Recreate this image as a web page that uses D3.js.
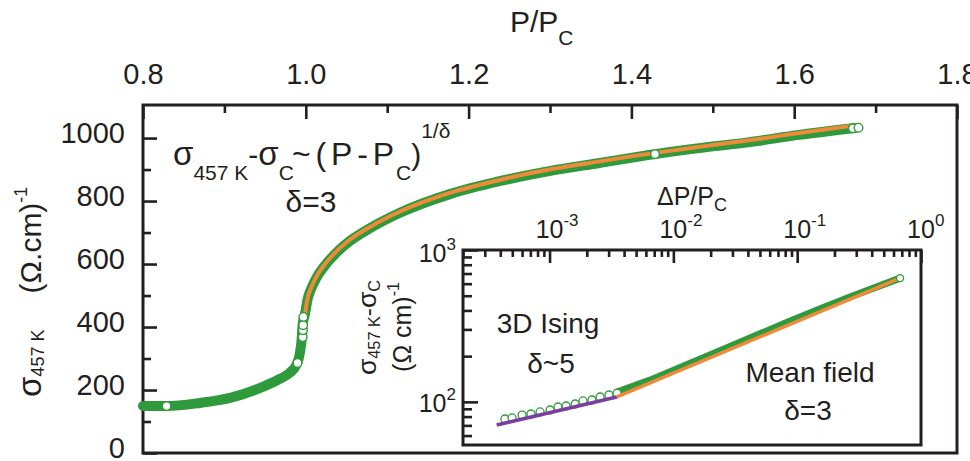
<!DOCTYPE html>
<html>
<head>
<meta charset="utf-8">
<script src="https://cdn.jsdelivr.net/npm/d3@7"></script>
<style>
  body { margin: 0; background: #fff; }
  svg { display: block; }
  text { font-family: Arial, "Liberation Sans", Helvetica, sans-serif; fill: #231f20; }
</style>
</head>
<body>
<svg id="chart" width="970" height="461"></svg>
<script>
// ---- main panel: sigma(457 K) against reduced pressure P/Pc ----
const mainP     = [0.800, 0.829, 0.870, 0.907, 0.947, 0.968, 0.980, 0.989, 0.993, 0.995, 0.996, 0.999, 1.002, 1.007, 1.013, 1.023, 1.036, 1.054, 1.079, 1.115, 1.177, 1.238, 1.299, 1.361, 1.429, 1.483, 1.545, 1.606, 1.675];
const mainSigma = [149, 149, 159, 175, 210, 235, 254, 283, 321, 365, 406, 441, 486, 524, 556, 594, 632, 673, 714, 762, 822, 863, 895, 921, 949, 968, 987, 1010, 1032];

// power-law fit with delta = 3 above Pc
const fitP     = [0.999, 1.002, 1.007, 1.013, 1.023, 1.036, 1.054, 1.079, 1.115, 1.177, 1.238, 1.299, 1.361, 1.429, 1.483, 1.545, 1.606, 1.680];
const fitSigma = [440, 489, 527, 560, 598, 636, 677, 718, 766, 826, 867, 900, 926, 953, 972, 993, 1016, 1042];

// individually visible open markers
const openP     = [0.829, 0.9898, 0.9962, 0.9965, 0.9967, 0.9970, 1.429, 1.672, 1.679];
const openSigma = [149, 286, 368, 390, 406, 432, 949, 1031, 1033];

const xMajor = [0.8, 1.0, 1.2, 1.4, 1.6, 1.8];
const xTickLabels = ["0.8", "1.0", "1.2", "1.4", "1.6", "1.8"];
const xMinor = [0.9, 1.1, 1.3, 1.5, 1.7];
const yMajor = [0, 200, 400, 600, 800, 1000];
const yTickLabels = ["0", "200", "400", "600", "800", "1000"];
const yMinor = [100, 300, 500, 700, 900];

// ---- inset: sigma - sigma_c against dP/Pc, log-log ----
const insetDP  = [3.51e-3, 6.47e-3, 1.20e-2, 2.25e-2, 4.16e-2, 7.69e-2, 0.145, 0.267, 0.678];
const insetVal = [116, 139, 172, 213, 263, 326, 403, 490, 653];
const insetOpenDP  = [4.36e-4, 4.98e-4, 6.0e-4, 7.08e-4, 8.38e-4, 1.01e-3, 1.17e-3, 1.36e-3, 1.61e-3, 1.86e-3, 2.20e-3, 2.56e-3, 3.02e-3, 3.51e-3];
const insetOpenVal = [77.1, 78.4, 81.9, 83.2, 85.8, 88.4, 92.5, 93.9, 96.8, 101.4, 102.9, 107.7, 111, 114];
const isingDP  = [3.74e-4, 3.49e-3];
const isingVal = [70.4, 107.7];
const meanDP   = [3.49e-3, 0.678];
const meanVal  = [107.7, 653];

const insetXMajor = [1e-3, 1e-2, 1e-1, 1];
const insetXExp = ["-3", "-2", "-1", "0"];
const insetYMajor = [100, 1000];
const insetYExp = ["2", "3"];

const GREEN = "#2f9a3b", ORANGE = "#ee8a3a", PURPLE = "#7a3f9e", INK = "#231f20";

const svg = d3.select("#chart");

// scales
const x = d3.scaleLinear().domain([0.8, 1.8]).range([143, 957]);
const y = d3.scaleLinear().domain([0, 1105]).range([453, 105]);
const ix = d3.scaleLog().domain([2e-4, 1]).range([463, 921]);
const iy = d3.scaleLog().domain([52, 1000]).range([445, 250]);

function styleAxis(g, fontSize) {
  g.select(".domain").remove();
  g.selectAll(".tick line").attr("stroke", INK).attr("stroke-width", 2.6);
  g.selectAll(".tick text").attr("font-size", fontSize).attr("fill", INK)
    .style("font-family", 'Arial, "Liberation Sans", sans-serif');
}

// ---- main axes ----
const gTop = svg.append("g").attr("transform", `translate(0,${y.range()[1]})`);
gTop.call(d3.axisTop(x).tickValues(xMajor).tickSize(-14).tickPadding(21)
  .tickFormat((d, i) => xTickLabels[i]));
styleAxis(gTop, 29);
const gTopMinor = svg.append("g").attr("transform", `translate(0,${y.range()[1]})`);
gTopMinor.call(d3.axisTop(x).tickValues(xMinor).tickSize(-8).tickFormat(""));
styleAxis(gTopMinor, 29);

const gLeft = svg.append("g").attr("transform", `translate(${x.range()[0]},0)`);
gLeft.call(d3.axisLeft(y).tickValues(yMajor).tickSize(-14).tickPadding(18)
  .tickFormat((d, i) => yTickLabels[i]));
styleAxis(gLeft, 29);
gLeft.selectAll(".tick text").attr("dy", "0.15em");
const gLeftMinor = svg.append("g").attr("transform", `translate(${x.range()[0]},0)`);
gLeftMinor.call(d3.axisLeft(y).tickValues(yMinor).tickSize(-8).tickFormat(""));
styleAxis(gLeftMinor, 29);

svg.append("rect")
  .attr("x", x.range()[0]).attr("y", y.range()[1])
  .attr("width", x.range()[1] - x.range()[0]).attr("height", y.range()[0] - y.range()[1])
  .attr("fill", "none").attr("stroke", INK).attr("stroke-width", 3);

// axis titles
const tTop = svg.append("text").attr("x", 510).attr("y", 32).attr("font-size", 30);
tTop.append("tspan").text("P/P");
tTop.append("tspan").attr("font-size", 21).attr("dy", 13).text("C");

const yt1 = svg.append("text").attr("transform", "translate(41,397) rotate(-90)")
  .attr("font-size", 30).attr("text-anchor", "start");
yt1.append("tspan").attr("font-size", 33).text("σ");
yt1.append("tspan").attr("font-size", 18).attr("dy", 3).text("457 K");
const yt2 = svg.append("text").attr("transform", "translate(41,240) rotate(-90)")
  .attr("font-size", 30).attr("text-anchor", "middle");
yt2.append("tspan").text("(Ω.cm)");
yt2.append("tspan").attr("font-size", 18).attr("dy", -14).text("-1");

// ---- main data ----
const mainPts = mainP.map((p, i) => [p, mainSigma[i]]);
const fitPts = fitP.map((p, i) => [p, fitSigma[i]]);
const lineMain = d3.line().x(d => x(d[0])).y(d => y(d[1])).curve(d3.curveMonotoneX);

svg.append("path").attr("d", lineMain(mainPts))
  .attr("fill", "none").attr("stroke", GREEN).attr("stroke-width", 10)
  .attr("stroke-linecap", "round").attr("stroke-linejoin", "round");
svg.append("path").attr("d", lineMain(fitPts))
  .attr("fill", "none").attr("stroke", ORANGE).attr("stroke-width", 4)
  .attr("stroke-linecap", "round");
svg.append("g").selectAll("circle").data(openP.map((p, i) => [p, openSigma[i]])).join("circle")
  .attr("cx", d => x(d[0])).attr("cy", d => y(d[1])).attr("r", 4.3)
  .attr("fill", "#fff").attr("stroke", GREEN).attr("stroke-width", 1.4);

// formula annotation
const f = svg.append("text").attr("x", 173).attr("y", 165).attr("font-size", 30);
f.append("tspan").attr("font-size", 33).text("σ");
f.append("tspan").attr("font-size", 21).attr("dy", 15).text("457 K");
f.append("tspan").attr("dy", -15).text("-");
f.append("tspan").attr("font-size", 33).text("σ");
f.append("tspan").attr("font-size", 21).attr("dy", 15).text("C");
const f2 = svg.append("text").attr("x", 292).attr("y", 165).attr("font-size", 32)
  .attr("textLength", 102).attr("lengthAdjust", "spacing");
f2.text("~(P-P");
const f3 = svg.append("text").attr("x", 396).attr("y", 165).attr("font-size", 30);
f3.append("tspan").attr("font-size", 21).attr("dy", 15).text("C");
f3.append("tspan").attr("dy", -15).text(")");
f3.append("tspan").attr("font-size", 21).attr("dy", -27).text("1/δ");
svg.append("text").attr("x", 311).attr("y", 212).attr("font-size", 30)
  .attr("text-anchor", "middle").text("δ=3");

// ---- inset ----
svg.append("rect")
  .attr("x", ix.range()[0]).attr("y", iy.range()[1])
  .attr("width", ix.range()[1] - ix.range()[0]).attr("height", iy.range()[0] - iy.range()[1])
  .attr("fill", "#fff").attr("stroke", "none");

const insetXMinor = [];
for (let e = -4; e < 0; e++) for (let m = 2; m <= 9; m++) {
  const v = m * Math.pow(10, e);
  if (v >= 2e-4 && v < 1) insetXMinor.push(v);
}
const insetYMinor = [60, 70, 80, 90, 200, 300, 400, 500, 600, 700, 800, 900];

const gIT = svg.append("g").attr("transform", `translate(0,${iy.range()[1]})`);
gIT.call(d3.axisTop(ix).tickValues(insetXMajor).tickSize(-13).tickFormat(""));
styleAxis(gIT, 25);
const gITm = svg.append("g").attr("transform", `translate(0,${iy.range()[1]})`);
gITm.call(d3.axisTop(ix).tickValues(insetXMinor).tickSize(-7).tickFormat(""));
styleAxis(gITm, 25);
const gIL = svg.append("g").attr("transform", `translate(${ix.range()[0]},0)`);
gIL.call(d3.axisLeft(iy).tickValues(insetYMajor).tickSize(-15).tickFormat(""));
styleAxis(gIL, 25);
const gILm = svg.append("g").attr("transform", `translate(${ix.range()[0]},0)`);
gILm.call(d3.axisLeft(iy).tickValues(insetYMinor).tickSize(-9).tickFormat(""));
styleAxis(gILm, 25);

// inset tick labels (powers of ten)
insetXMajor.forEach((v, i) => {
  const t = svg.append("text").attr("x", ix(v) - 13.9).attr("y", 238).attr("font-size", 25);
  t.append("tspan").text("10");
  t.append("tspan").attr("font-size", 17).attr("dy", -12).text(insetXExp[i]);
});
insetYMajor.forEach((v, i) => {
  const t = svg.append("text").attr("x", 456).attr("y", Math.max(iy(v) + 10, 262)).attr("font-size", 25)
    .attr("text-anchor", "end");
  t.append("tspan").text("10");
  t.append("tspan").attr("font-size", 17).attr("dy", -12).text(insetYExp[i]);
});

// inset titles
const itx = svg.append("text").attr("x", 657).attr("y", 205).attr("font-size", 25);
itx.append("tspan").text("ΔP/P");
itx.append("tspan").attr("font-size", 18).attr("dy", 6).text("C");

const ity1 = svg.append("text").attr("transform", "translate(376,375) rotate(-90)")
  .attr("font-size", 24).attr("textLength", 95).attr("lengthAdjust", "spacingAndGlyphs");
ity1.append("tspan").attr("font-size", 26).text("σ");
ity1.append("tspan").attr("font-size", 16).attr("dy", 4).text("457 K");
ity1.append("tspan").attr("dy", -4).text("-");
ity1.append("tspan").attr("font-size", 26).text("σ");
ity1.append("tspan").attr("font-size", 16).attr("dy", 4).text("C");
const ity2 = svg.append("text").attr("transform", "translate(411,327) rotate(-90)")
  .attr("font-size", 25).attr("text-anchor", "middle");
ity2.append("tspan").text("(Ω cm)");
ity2.append("tspan").attr("font-size", 16).attr("dy", -12).text("-1");

// inset data
const lineInset = d3.line().x(d => ix(d[0])).y(d => iy(d[1]));
svg.append("path").attr("d", lineInset(insetDP.map((v, i) => [v, insetVal[i]])))
  .attr("fill", "none").attr("stroke", GREEN).attr("stroke-width", 7)
  .attr("stroke-linecap", "round").attr("stroke-linejoin", "round");
svg.append("g").selectAll("circle").data(insetOpenDP.map((v, i) => [v, insetOpenVal[i]])).join("circle")
  .attr("cx", d => ix(d[0])).attr("cy", d => iy(d[1])).attr("r", 4)
  .attr("fill", "#fff").attr("stroke", GREEN).attr("stroke-width", 1.3);
svg.append("path").attr("d", lineInset(isingDP.map((v, i) => [v, isingVal[i]])))
  .attr("fill", "none").attr("stroke", PURPLE).attr("stroke-width", 3.5);
svg.append("path").attr("d", lineInset(meanDP.map((v, i) => [v, meanVal[i]])))
  .attr("fill", "none").attr("stroke", ORANGE).attr("stroke-width", 3.5);
svg.append("circle").attr("cx", ix(insetDP[insetDP.length - 1])).attr("cy", iy(insetVal[insetVal.length - 1]))
  .attr("r", 3.5).attr("fill", "#fff").attr("stroke", GREEN).attr("stroke-width", 1.3);

svg.append("rect")
  .attr("x", ix.range()[0]).attr("y", iy.range()[1])
  .attr("width", ix.range()[1] - ix.range()[0]).attr("height", iy.range()[0] - iy.range()[1])
  .attr("fill", "none").attr("stroke", INK).attr("stroke-width", 3);

// inset annotations
svg.append("text").attr("x", 548).attr("y", 333).attr("font-size", 28).attr("text-anchor", "middle").text("3D Ising");
svg.append("text").attr("x", 551).attr("y", 373).attr("font-size", 28).attr("text-anchor", "middle").text("δ~5");
svg.append("text").attr("x", 810).attr("y", 382).attr("font-size", 28).attr("text-anchor", "middle").text("Mean field");
svg.append("text").attr("x", 808).attr("y", 420).attr("font-size", 28).attr("text-anchor", "middle").text("δ=3");
</script>
</body>
</html>
